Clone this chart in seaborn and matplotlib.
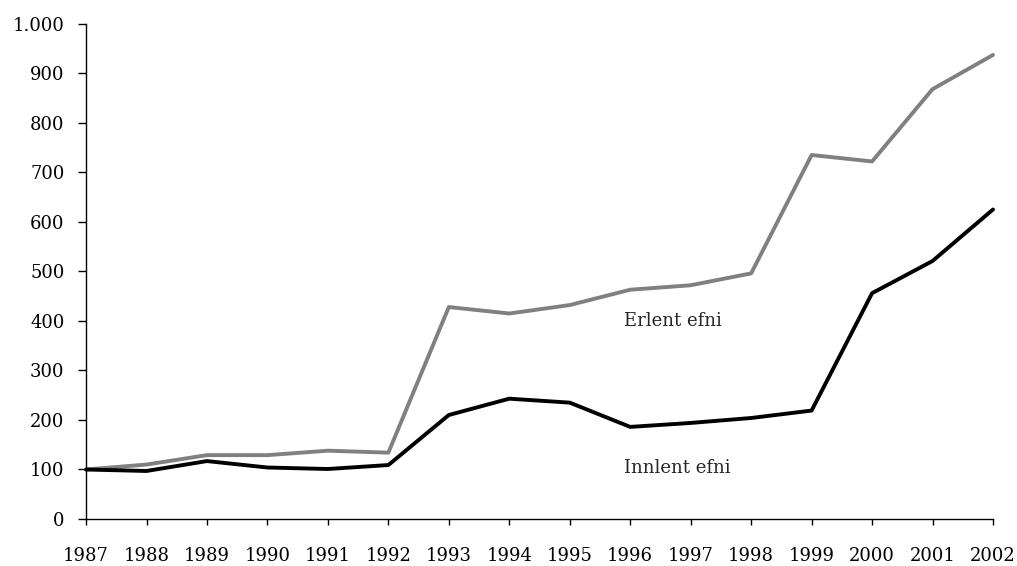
import pandas as pd
import matplotlib
matplotlib.use("Agg")
import matplotlib.pyplot as plt
import seaborn as sns
from matplotlib.ticker import FuncFormatter

# gögn lesin af mynd
years = list(range(1987, 2003))
erlent = [100, 110, 129, 129, 138, 134, 428, 415, 432, 463, 472, 496, 735, 722, 868, 937]
innlent = [100, 97, 117, 104, 101, 109, 210, 243, 235, 186, 194, 204, 219, 456, 521, 625]
series_names = ["Erlent efni", "Innlent efni"]
series_colors = ["#808080", "#000000"]

df = pd.DataFrame({
    "year": years * 2,
    "value": erlent + innlent,
    "series": [series_names[0]] * len(years) + [series_names[1]] * len(years),
})

sns.set_style("ticks")
plt.rcParams["font.family"] = ["DejaVu Serif"]

fig = plt.figure(figsize=(10.17, 5.66), dpi=100)
ax = fig.add_axes([0.0846, 0.083, 0.8918, 0.875])

sns.lineplot(data=df, x="year", y="value", hue="series",
             palette=dict(zip(series_names, series_colors)),
             linewidth=2.8, legend=False, ax=ax)
for line in ax.lines:
    line.set_clip_on(False)

ax.set_xlim(1987, 2002)
ax.set_ylim(0, 1000)
ax.set_xticks(years)
ax.set_yticks(range(0, 1001, 100))
ax.yaxis.set_major_formatter(FuncFormatter(lambda v, p: f"{int(v):,}".replace(",", ".")))
ax.set_xlabel("")
ax.set_ylabel("")

sns.despine(ax=ax)
for s in ["left", "bottom"]:
    ax.spines[s].set_linewidth(1.0)
    ax.spines[s].set_color("black")
ax.tick_params(axis="x", length=4.5, width=1, pad=16, labelsize=13, colors="black")
ax.tick_params(axis="y", length=5.5, width=1, pad=10, labelsize=13, colors="black")

ax.text(1995.9, 400, "Erlent efni", fontsize=13, ha="left", va="center")
ax.text(1995.9, 103, "Innlent efni", fontsize=13, ha="left", va="center")

fig.savefig("out.png", dpi=100)
